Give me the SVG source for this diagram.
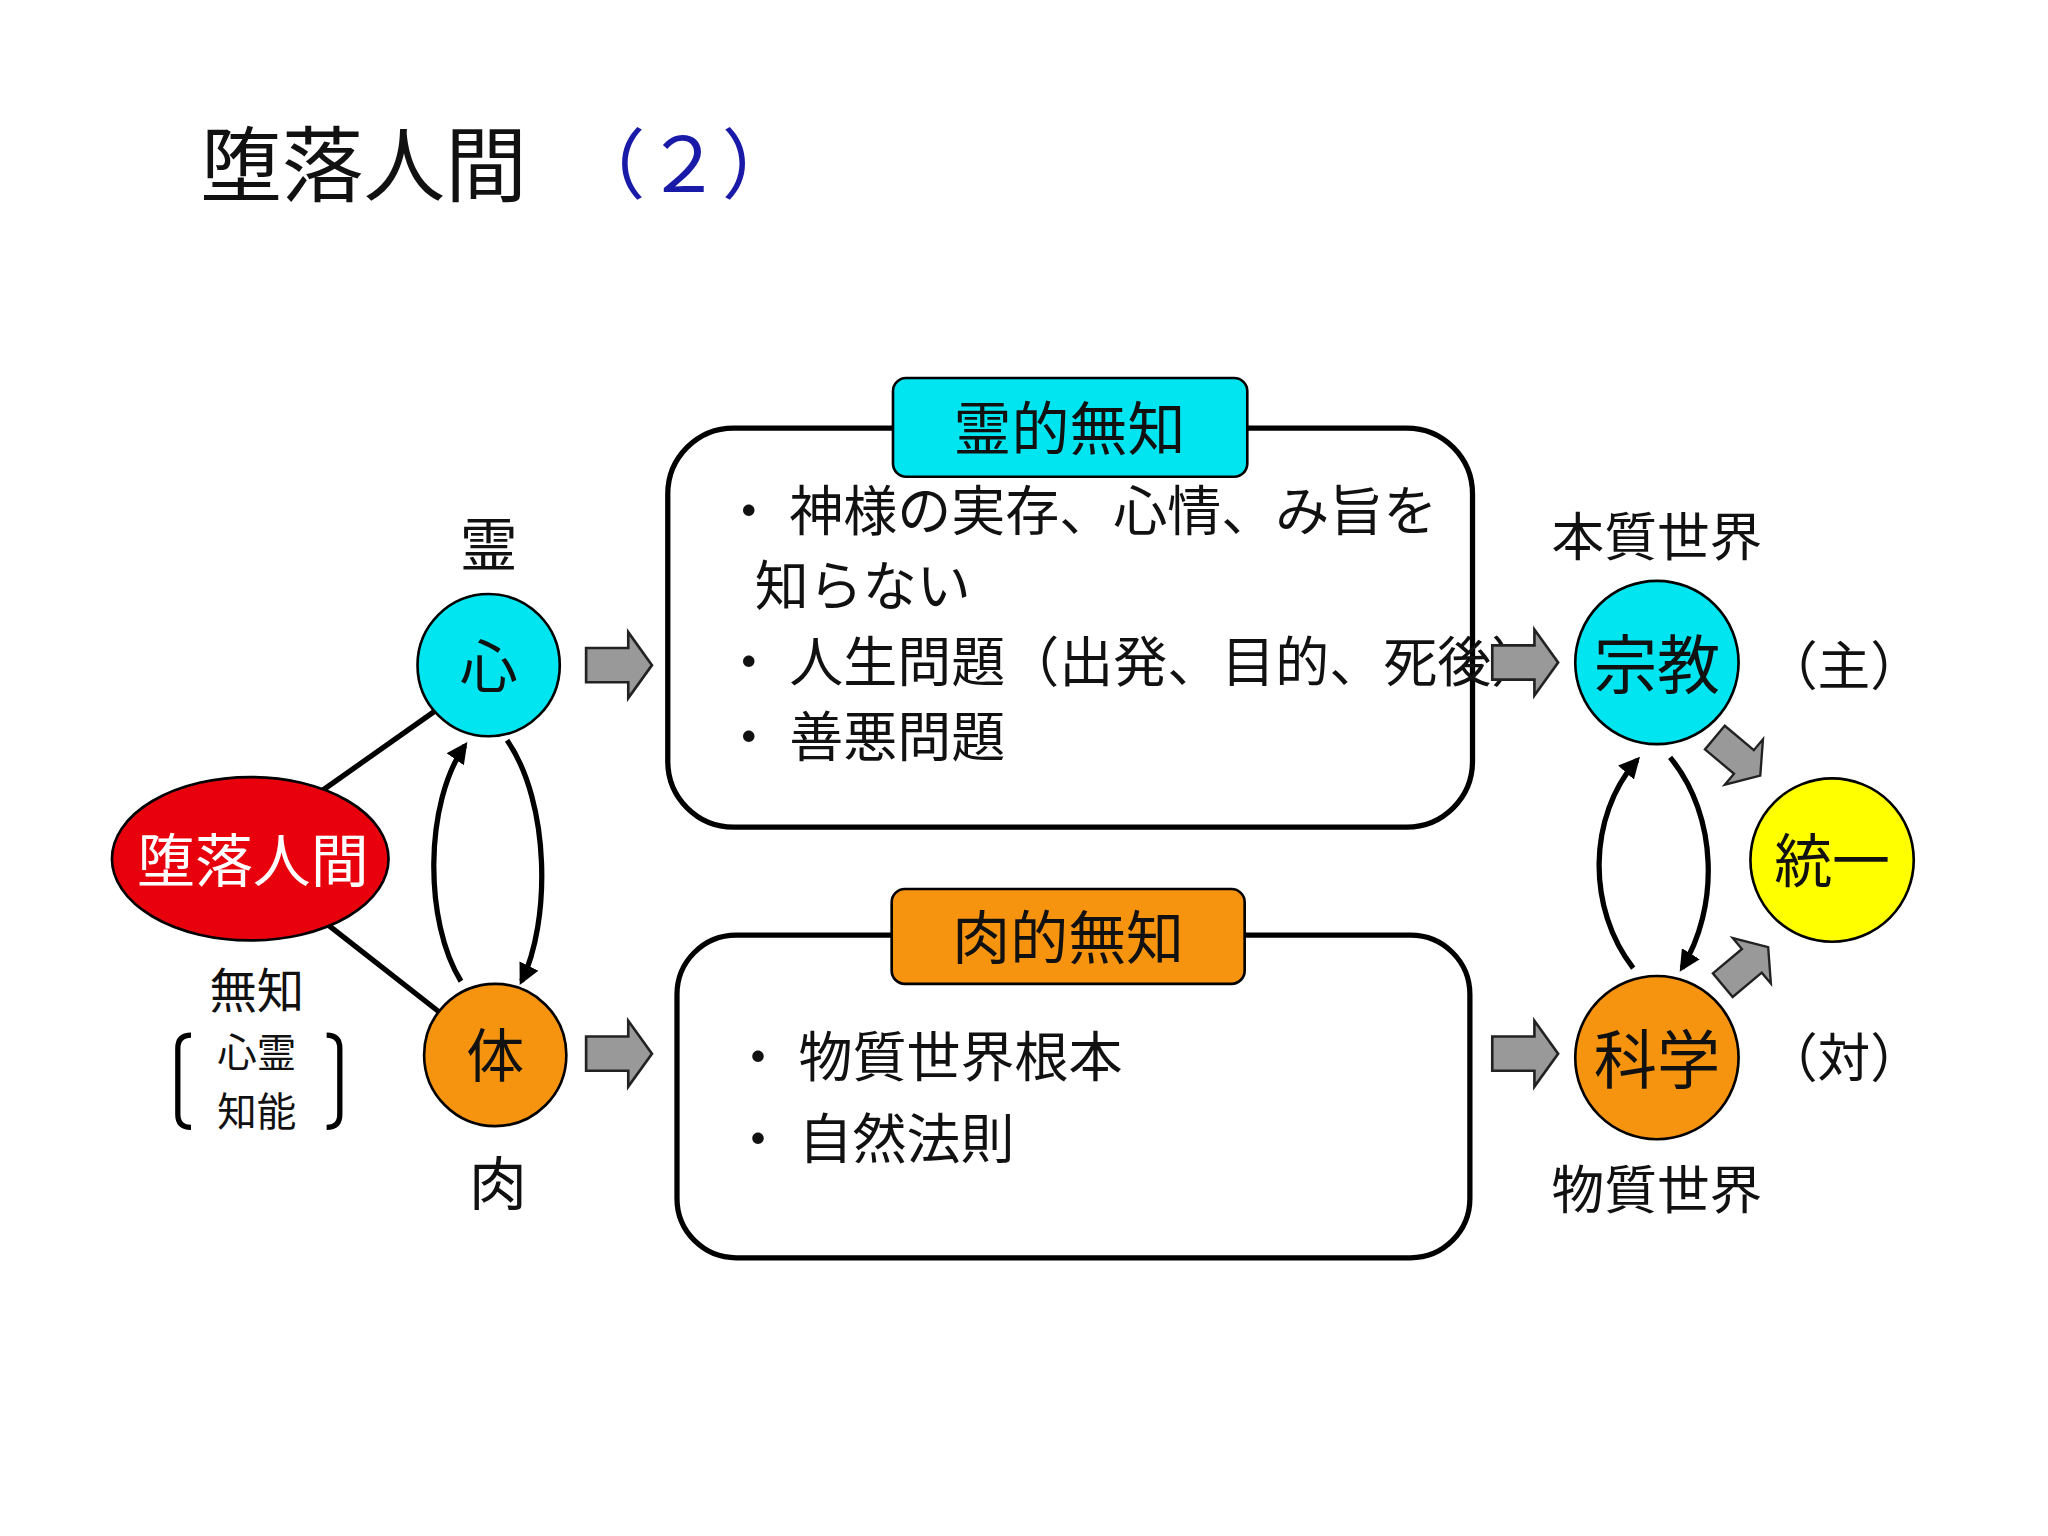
<svg xmlns="http://www.w3.org/2000/svg" width="2048" height="1536" viewBox="0 0 2048 1536">
<style>
text{font-family:"Liberation Serif","Noto Sans CJK JP",serif;fill:#111}
.box{fill:#fff;stroke:#000;stroke-width:4}
.ln{fill:none;stroke:#000;stroke-width:4}
.ga{fill:#999;stroke:#222;stroke-width:2}
.c{stroke:#000;stroke-width:2}
</style>
<defs>
<marker id="ah" viewBox="0 0 10 10" refX="8" refY="5" markerWidth="4" markerHeight="4" orient="auto"><path d="M0,0L10,5L0,10z" fill="#000"/></marker>
<path id="blk" d="M0,-13H32V-25L50,0L32,25V13H0Z"/>
</defs>
<rect width="2048" height="1536" fill="#fff"/>
<g transform="scale(1.3171)">
<g id="title"><text x="152" y="148" font-size="62">堕落人間</text><text x="432" y="146" font-size="58" fill="#1a1aa8" style="fill:#1a1aa8">（２）</text></g>
<g id="connectors">
<line class="ln" x1="245" y1="600" x2="330" y2="540"/>
<line class="ln" x1="250" y1="703" x2="333" y2="768"/>
<path class="ln" d="M350,745 C322,700 322,610 353,566" marker-end="url(#ah)"/>
<path class="ln" d="M385,562 C418,610 418,700 396,745" marker-end="url(#ah)"/>
<path class="ln" d="M1240,735 C1205,690 1205,620 1243,577" marker-end="url(#ah)"/>
<path class="ln" d="M1268,575 C1305,620 1305,690 1277,735" marker-end="url(#ah)"/>
</g>
<g id="top-box"><rect class="box" x="507" y="325" width="611" height="303" rx="50"/>
<text font-size="41"><tspan x="548" y="403">・ 神様の実存、心情、み旨を</tspan><tspan x="573" y="460">知らない</tspan><tspan x="548" y="518">・ 人生問題（出発、目的、死後）</tspan><tspan x="548" y="575">・ 善悪問題</tspan></text>
<rect x="678" y="287" width="269" height="75" rx="10" fill="#00e5ef" stroke="#000" stroke-width="2"/><text x="812" y="342" font-size="44" text-anchor="middle">霊的無知</text></g>
<g id="bottom-box"><rect class="box" x="514" y="710" width="602" height="245" rx="45"/>
<text font-size="41"><tspan x="555" y="818">・ 物質世界根本</tspan><tspan x="555" y="880">・ 自然法則</tspan></text>
<rect x="677" y="675" width="268" height="72" rx="10" fill="#f7940f" stroke="#000" stroke-width="2"/><text x="811" y="728" font-size="44" text-anchor="middle">肉的無知</text></g>
<g id="arrows">
<use href="#blk" class="ga" transform="translate(445,505)"/>
<use href="#blk" class="ga" transform="translate(445,800)"/>
<use href="#blk" class="ga" transform="translate(1133,503)"/>
<use href="#blk" class="ga" transform="translate(1133,800)"/>
<use href="#blk" class="ga" transform="translate(1302,560) rotate(40) scale(0.9)"/>
<use href="#blk" class="ga" transform="translate(1308,748) rotate(-40) scale(0.9)"/>
</g>
<g id="fallen"><ellipse cx="190" cy="652" rx="105" ry="62" fill="#e8000c" stroke="#000" stroke-width="2"/><text x="192" y="670" font-size="44" text-anchor="middle" style="fill:#fff">堕落人間</text>
<text x="195" y="765" font-size="36" text-anchor="middle">無知</text>
<text x="195" y="810" font-size="30" text-anchor="middle">心霊</text><text x="195" y="855" font-size="30" text-anchor="middle">知能</text>
<path class="ln" d="M145,786 Q135,786 135,796 V846 Q135,856 145,856"/><path class="ln" d="M248,786 Q258,786 258,796 V846 Q258,856 248,856"/></g>
<g id="kokoro"><circle class="c" cx="371" cy="505" r="54" fill="#00e5ef"/><text x="371" y="522" font-size="44" text-anchor="middle">心</text><text x="371" y="430" font-size="44" text-anchor="middle">霊</text></g>
<g id="karada"><circle class="c" cx="376" cy="801" r="54" fill="#f7940f"/><text x="376" y="818" font-size="44" text-anchor="middle">体</text><text x="378" y="915" font-size="44" text-anchor="middle">肉</text></g>
<g id="shukyo"><circle class="c" cx="1258" cy="503" r="62" fill="#00e5ef"/><text x="1258" y="522" font-size="48" text-anchor="middle">宗教</text><text x="1258" y="422" font-size="40" text-anchor="middle">本質世界</text><text x="1400" y="520" font-size="40" text-anchor="middle">（主）</text></g>
<g id="kagaku"><circle class="c" cx="1258" cy="803" r="62" fill="#f7940f"/><text x="1258" y="822" font-size="48" text-anchor="middle">科学</text><text x="1258" y="918" font-size="40" text-anchor="middle">物質世界</text><text x="1400" y="818" font-size="40" text-anchor="middle">（対）</text></g>
<g id="toitsu"><circle class="c" cx="1391" cy="653" r="62" fill="#ffff00"/><text x="1391" y="670" font-size="44" text-anchor="middle">統一</text></g>
</g>
</svg>
